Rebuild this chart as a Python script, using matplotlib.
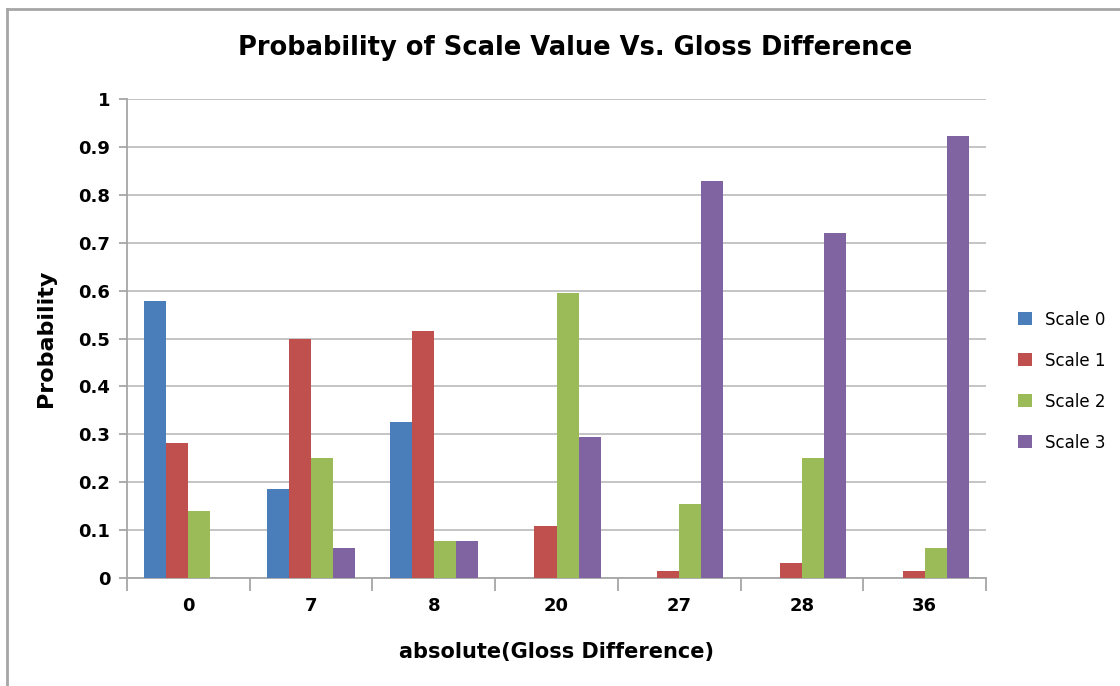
import numpy as np
import matplotlib.pyplot as plt
from matplotlib.lines import Line2D

# Data
gloss_diff = ['0', '7', '8', '20', '27', '28', '36']
scale_0 = [0.578, 0.186, 0.326, 0, 0, 0, 0]
scale_1 = [0.281, 0.500, 0.516, 0.109, 0.015, 0.031, 0.015]
scale_2 = [0.140, 0.250, 0.077, 0.594, 0.154, 0.250, 0.062]
scale_3 = [0, 0.062, 0.077, 0.295, 0.829, 0.720, 0.923]
series_names = ['Scale 0', 'Scale 1', 'Scale 2', 'Scale 3']
colors = ['#4A7EBB', '#C0504D', '#9BBB59', '#8064A2']

fig = plt.figure(figsize=(11.2, 6.86), dpi=100)
ax = fig.add_axes([127 / 1120, 108 / 686, (986 - 127) / 1120, (578 - 99) / 686])

x = np.arange(len(gloss_diff))
width = 0.18
for i, (vals, name) in enumerate(zip([scale_0, scale_1, scale_2, scale_3], series_names)):
    ax.bar(x + (i - 1.5) * width, vals, width, color=colors[i], label=name, zorder=3)

ax.set_xlim(-0.5, len(gloss_diff) - 0.5)
ax.set_ylim(0, 1)
ax.set_yticks(np.arange(0, 1.01, 0.1))
ax.set_yticklabels(['0'] + [f'{v:.1f}' for v in np.arange(0.1, 0.95, 0.1)] + ['1'])
ax.set_xticks(x)
ax.set_xticklabels(gloss_diff)
ax.set_xticks(np.arange(-0.5, len(gloss_diff)), minor=True)

ax.grid(axis='y', color='#BFBFBF', linewidth=1.3, zorder=0)
for side in ['top', 'right']:
    ax.spines[side].set_visible(False)
for side in ['left', 'bottom']:
    ax.spines[side].set_color('#A6A6A6')
    ax.spines[side].set_linewidth(1.3)

ax.tick_params(axis='x', which='major', length=0, pad=14, labelsize=13)
ax.tick_params(axis='x', which='minor', length=9, width=1.3, color='#A6A6A6')
ax.tick_params(axis='y', length=6, width=1.3, color='#A6A6A6', pad=6, labelsize=13)
for lbl in ax.get_xticklabels() + ax.get_yticklabels():
    lbl.set_fontweight('bold')

ax.set_xlabel('absolute(Gloss Difference)', fontsize=15, fontweight='bold', labelpad=19)
ax.set_ylabel('Probability', fontsize=16, fontweight='bold', labelpad=16)
fig.text(575 / 1120, 1 - 48 / 686, 'Probability of Scale Value Vs. Gloss Difference',
         ha='center', va='center', fontsize=18.5, fontweight='bold')

ax.legend(loc='center left', bbox_to_anchor=(1.02, 0.411), frameon=False,
          fontsize=12, handlelength=0.8, handleheight=0.8, labelspacing=1.38)

# Outer chart border (left and top only)
fig.add_artist(Line2D([7 / 1120, 7 / 1120], [0, 1 - 9 / 686], color='#A6A6A6', lw=2,
                      transform=fig.transFigure))
fig.add_artist(Line2D([7 / 1120, 1], [1 - 9 / 686, 1 - 9 / 686], color='#A6A6A6', lw=2,
                      transform=fig.transFigure))

fig.savefig('out.png', dpi=100)
